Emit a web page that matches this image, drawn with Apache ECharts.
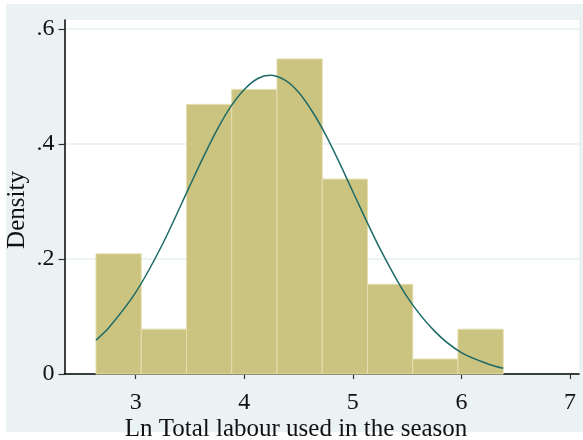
<!DOCTYPE html>
<html>
<head>
<meta charset="utf-8">
<script src="https://cdn.jsdelivr.net/npm/echarts@6/dist/echarts.min.js"></script>
<style>
html,body{margin:0;padding:0;background:#fff;}
#chart{width:583px;height:440px;}
</style>
</head>
<body>
<div id="chart"></div>
<script>
// Histogram bins (edges) and densities
const binEdges = [2.634, 3.051, 3.468, 3.884, 4.301, 4.718, 5.135, 5.552, 5.968, 6.385];
const densities = [0.209, 0.078, 0.469, 0.495, 0.548, 0.339, 0.156, 0.026, 0.078];
// Overlayed density curve points
const curveX = [2.634, 2.75, 3.0, 3.25, 3.5, 3.625, 3.75, 3.875, 4.0, 4.125, 4.237, 4.375, 4.5, 4.625, 4.75, 4.875, 5.0, 5.25, 5.5, 5.75, 6.0, 6.25, 6.385];
const curveY = [0.059, 0.080, 0.142, 0.227, 0.328, 0.378, 0.425, 0.465, 0.495, 0.514, 0.5195, 0.511, 0.490, 0.457, 0.416, 0.368, 0.317, 0.218, 0.134, 0.075, 0.037, 0.017, 0.010];
// Axis ticks
const xTicks = [3, 4, 5, 6, 7];
const yTicks = [0, 0.2, 0.4, 0.6];
const yTickLabels = ['0', '.2', '.4', '.6'];
const xTitle = 'Ln Total labour used in the season';
const yTitle = 'Density';

const FONT = '"Liberation Serif", "DejaVu Serif", serif';

const barData = densities.map((d, i) => [binEdges[i], binEdges[i + 1], d]);
const lineData = curveX.map((x, i) => [x, curveY[i]]);

const chart = echarts.init(document.getElementById('chart'), null, {renderer: 'canvas'});
chart.setOption({
  animation: false,
  backgroundColor: '#ffffff',
  graphic: [
    {type: 'rect', z: -10, silent: true, shape: {x: 6, y: 4, width: 577, height: 428}, style: {fill: '#EAF2F3'}},
    {type: 'text', z: 10, silent: true, x: 296, y: 442,
     style: {text: xTitle, font: '25px ' + FONT, fill: '#111', textAlign: 'center', textVerticalAlign: 'bottom'}},
    {type: 'text', z: 10, silent: true, x: 30, y: 210, rotation: Math.PI / 2,
     style: {text: yTitle, font: '25px ' + FONT, fill: '#111', textAlign: 'center', textVerticalAlign: 'bottom'}}
  ],
  grid: {left: 64.5, right: 4, top: 20, bottom: 66, show: true, backgroundColor: '#ffffff', borderWidth: 0},
  xAxis: {
    type: 'value', min: 2.344, max: 7.083,
    axisLine: {show: true, onZero: false, lineStyle: {color: '#000', width: 1.5}},
    axisTick: {show: true, customValues: xTicks, length: 5, lineStyle: {color: '#333', width: 1.2}},
    axisLabel: {customValues: xTicks, margin: 17, color: '#111', fontSize: 24, fontFamily: FONT},
    splitLine: {show: false}
  },
  yAxis: {
    type: 'value', min: 0, max: 0.6157,
    axisLine: {show: true, onZero: false, lineStyle: {color: '#000', width: 1.5}},
    axisTick: {show: true, customValues: yTicks, length: 6, lineStyle: {color: '#333', width: 1.2}},
    axisLabel: {customValues: yTicks, margin: 10, color: '#111', fontSize: 24, fontFamily: FONT,
      formatter: v => { const i = yTicks.findIndex(t => Math.abs(t - v) < 1e-6); return i >= 0 ? yTickLabels[i] : ''; }},
    splitLine: {show: true, lineStyle: {color: '#E6EFF1', width: 1.5}}
  },
  series: [
    {
      type: 'custom', z: 2,
      encode: {x: [0, 1], y: 2},
      data: barData,
      renderItem: function (params, api) {
        const p0 = api.coord([api.value(0), 0]);
        const p1 = api.coord([api.value(1), api.value(2)]);
        return {
          type: 'rect',
          shape: {x: p0[0], y: p1[1], width: p1[0] - p0[0], height: p0[1] - p1[1]},
          style: {fill: '#CBC380', stroke: '#E4DEB0', lineWidth: 1}
        };
      }
    },
    {
      type: 'line', z: 3, data: lineData, smooth: 0.3, showSymbol: false,
      lineStyle: {color: '#1E6B68', width: 1.5}
    }
  ]
});
</script>
</body>
</html>
